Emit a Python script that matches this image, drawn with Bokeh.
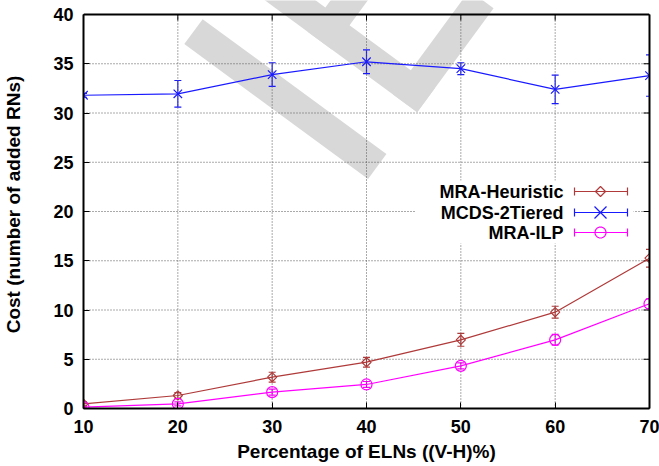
import numpy as np
from bokeh.plotting import figure
from bokeh.models import (ColumnDataSource, Whisker, TeeHead, FixedTicker, LinearAxis,
                          PolyAnnotation, BoxAnnotation, Label, Range1d, Span)
from bokeh.embed import file_html
from bokeh.resources import INLINE

# ---------------- data ----------------
pct = [10, 20, 30, 40, 50, 60, 70]
heuristic = [0.47, 1.32, 3.18, 4.70, 6.97, 9.78, 15.26]
heuristic_err = [0.2, 0.3, 0.5, 0.5, 0.65, 0.6, 0.9]
mcds = [31.8, 31.95, 33.9, 35.2, 34.5, 32.4, 33.8]
mcds_err = [0.2, 1.35, 1.2, 1.2, 0.6, 1.45, 2.1]
ilp = [0.13, 0.47, 1.66, 2.44, 4.33, 6.97, 10.63]
ilp_err = [0.1, 0.2, 0.3, 0.3, 0.3, 0.55, 0.5]

series_names = ["MRA-Heuristic", "MCDS-2Tiered", "MRA-ILP"]
x_ticks = [10, 20, 30, 40, 50, 60, 70]
y_ticks = [0, 5, 10, 15, 20, 25, 30, 35, 40]
x_label = "Percentage of ELNs ((V-H)%)"
y_label = "Cost (number of added RNs)"

# ---------------- style ----------------
FONT = "Liberation Sans"
COLORS = ["#b03a3a", "#1a1aff", "#ff00ff"]
W, H = 659, 466
BL, BR, BT, BB = 82, 10, 14, 58      # BT: blank strip above the plot box
X0, X1 = x_ticks[0], x_ticks[-1]
Y0, Y1 = y_ticks[0], y_ticks[-1]
box_h = H - BT - BB
y_top = Y1 + BT * (Y1 - Y0) / box_h   # frame reaches the canvas top so the watermark can show there

p = figure(width=W, height=H, x_range=Range1d(X0, X1), y_range=Range1d(Y0, y_top),
           output_backend="svg", toolbar_location=None,
           min_border_left=BL, min_border_right=BR, min_border_top=0, min_border_bottom=BB)
p.background_fill_color = "white"
p.border_fill_color = "white"
p.outline_line_color = None
p.xgrid.visible = False
p.ygrid.visible = False

# axes (box edges drawn by axis lines limited to the data box)
p.xaxis.ticker = FixedTicker(ticks=x_ticks)
p.yaxis.ticker = FixedTicker(ticks=y_ticks)
p.xaxis.bounds = (X0, X1)
p.yaxis.bounds = (Y0, Y1)
for ax in (p.xaxis[0], p.yaxis[0]):
    ax.axis_line_color = "black"
    ax.axis_line_width = 2
    ax.major_tick_in = 6
    ax.major_tick_out = 0
    ax.major_tick_line_color = "black"
    ax.minor_tick_line_color = None
    ax.major_label_text_font = FONT
    ax.major_label_text_font_style = "bold"
    ax.major_label_text_font_size = "18px"
    ax.major_label_text_color = "black"
    ax.axis_label_text_font = FONT
    ax.axis_label_text_font_style = "bold"
    ax.axis_label_text_font_size = "19px"
    ax.axis_label_text_color = "black"
p.xaxis.axis_label = x_label
p.yaxis.axis_label = y_label
p.xaxis.major_label_standoff = 11
p.yaxis.major_label_standoff = 10
p.xaxis.axis_label_standoff = 5
p.yaxis.axis_label_standoff = 26

right_ax = LinearAxis(ticker=FixedTicker(ticks=[]), bounds=(Y0, Y1), axis_line_color="black",
                      axis_line_width=2, major_tick_in=0, major_tick_out=0,
                      minor_tick_line_color=None, major_label_standoff=0)
p.add_layout(right_ax, "right")
p.add_layout(Span(location=Y1, dimension="width", line_color="black", line_width=2))

# ---------------- watermark (decoration, canvas pixels) ----------------
wm_origin = np.array([416.7, 111.7])
wm_d = np.array([0.806, 0.592])
wm_n = np.array([0.592, -0.806])
wm_parts = [(-83, -52, 0, 228),   # stroke of "I"
            (0, 30, 0, 228),      # E stem
            (0, 129, 0, 30),      # E foot
            (0, 110, 106, 136),   # E middle arm
            (0, 129, 198, 228)]   # E top arm
for u0, u1, v0, v1 in wm_parts:
    pts = [wm_origin + u * wm_n - v * wm_d for u, v in ((u0, v0), (u1, v0), (u1, v1), (u0, v1))]
    p.add_layout(PolyAnnotation(xs=[q[0] for q in pts], ys=[q[1] for q in pts],
                                xs_units="canvas", ys_units="canvas",
                                fill_color="#d8d8d8", fill_alpha=1.0, line_color=None,
                                level="image"))

# ---------------- grid (dotted, limited to the data box) ----------------
p.segment(x0=x_ticks, x1=x_ticks, y0=[Y0] * len(x_ticks), y1=[Y1] * len(x_ticks),
          line_color="#555555", line_dash="1 2", line_width=1)
p.segment(x0=[X0] * len(y_ticks), x1=[X1] * len(y_ticks), y0=y_ticks, y1=y_ticks,
          line_color="#555555", line_dash="1 2", line_width=1)

# mirrored inward ticks on the right and top edges (6 px long)
dx = 6 * (X1 - X0) / (W - BL - BR)
dy = 6 * (Y1 - Y0) / box_h
p.segment(x0=[X1 - dx] * len(y_ticks), x1=[X1] * len(y_ticks), y0=y_ticks, y1=y_ticks,
          line_color="black", line_width=1)
p.segment(x0=x_ticks, x1=x_ticks, y0=[Y1 - dy] * len(x_ticks), y1=[Y1] * len(x_ticks),
          line_color="black", line_width=1)

# ---------------- series ----------------
series = [(heuristic, heuristic_err, "square", 6.5, np.pi / 4),
          (mcds, mcds_err, "x", 12, 0.0),
          (ilp, ilp_err, "circle", 11, 0.0)]
for (vals, errs, marker, size, ang), color in zip(series, COLORS):
    src = ColumnDataSource(dict(x=pct, y=vals,
                                lo=[v - e for v, e in zip(vals, errs)],
                                hi=[v + e for v, e in zip(vals, errs)]))
    p.add_layout(Whisker(source=src, base="x", upper="hi", lower="lo", dimension="height",
                         line_color=color, line_width=1.2,
                         upper_head=TeeHead(size=7, line_color=color, line_width=1.2),
                         lower_head=TeeHead(size=7, line_color=color, line_width=1.2)))
    p.line("x", "y", source=src, line_color=color, line_width=1.2)
    p.scatter("x", "y", source=src, marker=marker, size=size, angle=ang,
              fill_color=None, line_color=color, line_width=1.2)

# ---------------- legend (gnuplot style: text then sample) ----------------
p.add_layout(BoxAnnotation(left=415, right=633, top=180, bottom=243,
                           left_units="canvas", right_units="canvas",
                           top_units="canvas", bottom_units="canvas",
                           fill_color="white", fill_alpha=1.0, line_color=None))
leg_rows = [191, 212, 232]
leg_text_x, leg_x0, leg_x1, leg_xm = 563, 574, 627, 600
for i, (name, color) in enumerate(zip(series_names, COLORS)):
    yy = leg_rows[i]
    p.add_layout(Label(x=leg_text_x, y=yy, x_units="canvas", y_units="canvas", text=name,
                       text_align="right", text_baseline="middle", text_font=FONT,
                       text_font_style="bold", text_font_size="18px", text_color="black"))
    segs = [([leg_x0, leg_x1], [yy, yy]), ([leg_x0, leg_x0], [yy - 4, yy + 4]),
            ([leg_x1, leg_x1], [yy - 4, yy + 4])]
    if i == 0:
        segs.append(([leg_xm - 5, leg_xm, leg_xm + 5, leg_xm], [yy, yy - 5, yy, yy + 5]))
    elif i == 1:
        segs.append(([leg_xm - 6, leg_xm + 6], [yy - 6, yy + 6]))
        segs.append(([leg_xm - 6, leg_xm + 6], [yy + 6, yy - 6]))
    else:
        t = np.linspace(0, 2 * np.pi, 25)[:-1]
        segs.append((list(leg_xm + 5.5 * np.cos(t)), list(yy + 5.5 * np.sin(t))))
    for xs, ys in segs:
        p.add_layout(PolyAnnotation(xs=xs, ys=ys, xs_units="canvas", ys_units="canvas",
                                    fill_alpha=0, line_color=color, line_alpha=1.0,
                                    line_width=1.2))

open("out.html", "w").write(file_html(p, INLINE))
